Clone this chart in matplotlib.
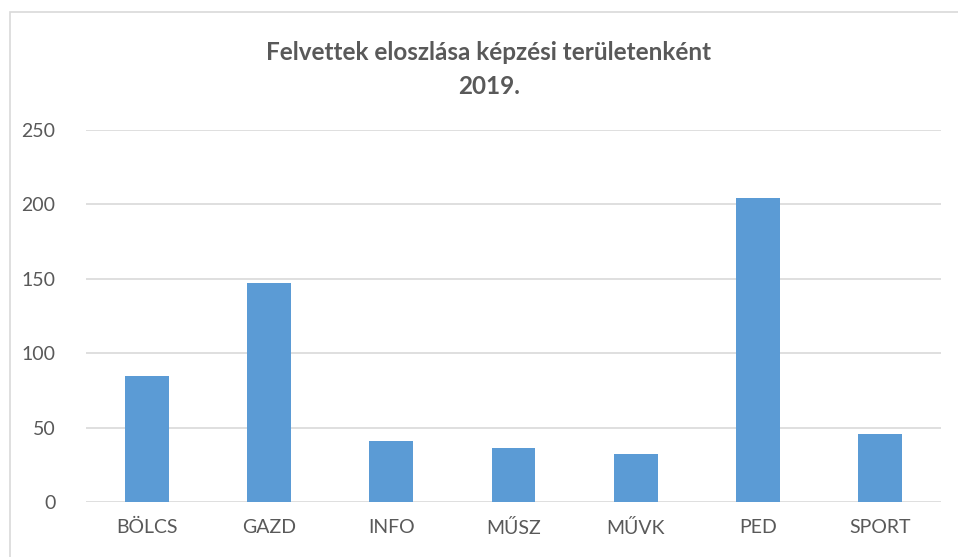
import matplotlib
matplotlib.use("Agg")
import matplotlib.pyplot as plt
from matplotlib.patches import Rectangle

# data
kategoriak = ["BÖLCS", "GAZD", "INFO", "MŰSZ", "MŰVK", "PED", "SPORT"]
felvettek = [85, 147, 41, 36, 32, 204, 46]
y_ticks = [0, 50, 100, 150, 200, 250]

plt.rcParams['font.family'] = ['Lato', 'DejaVu Sans']
szurke = '#595959'

fig = plt.figure(figsize=(9.58, 5.57), dpi=100)

# chart border (runs off right and bottom edge like the screenshot)
fig.patches.append(Rectangle((10 / 958, -0.05), 1.0, 1 - 12 / 557 + 0.05,
                             transform=fig.transFigure, fill=False,
                             edgecolor='#d9d9d9', linewidth=1.2))

ax = fig.add_axes([86 / 958, 55 / 557, 855 / 958, 372 / 557])
ax.bar(range(len(kategoriak)), felvettek, width=0.36, color='#5b9bd5', zorder=3)

ax.set_xlim(-0.5, len(kategoriak) - 0.5)
ax.set_ylim(0, 250)
ax.set_yticks(y_ticks)
ax.set_xticks(range(len(kategoriak)))
ax.set_xticklabels(kategoriak)
ax.grid(axis='y', color='#d9d9d9', linewidth=1.2, zorder=0)
for s in ax.spines.values():
    s.set_visible(False)
ax.tick_params(length=0, labelsize=14, colors=szurke)
ax.tick_params(axis='y', pad=22)
ax.tick_params(axis='x', pad=12)

fig.text(489 / 958, 1 - 52 / 557, "Felvettek eloszlása képzési területenként",
         ha='center', va='center', fontsize=17.5, fontweight='bold', color=szurke)
fig.text(489 / 958, 1 - 86 / 557, "2019.",
         ha='center', va='center', fontsize=17.5, fontweight='bold', color=szurke)

fig.savefig("out.png", dpi=100)
